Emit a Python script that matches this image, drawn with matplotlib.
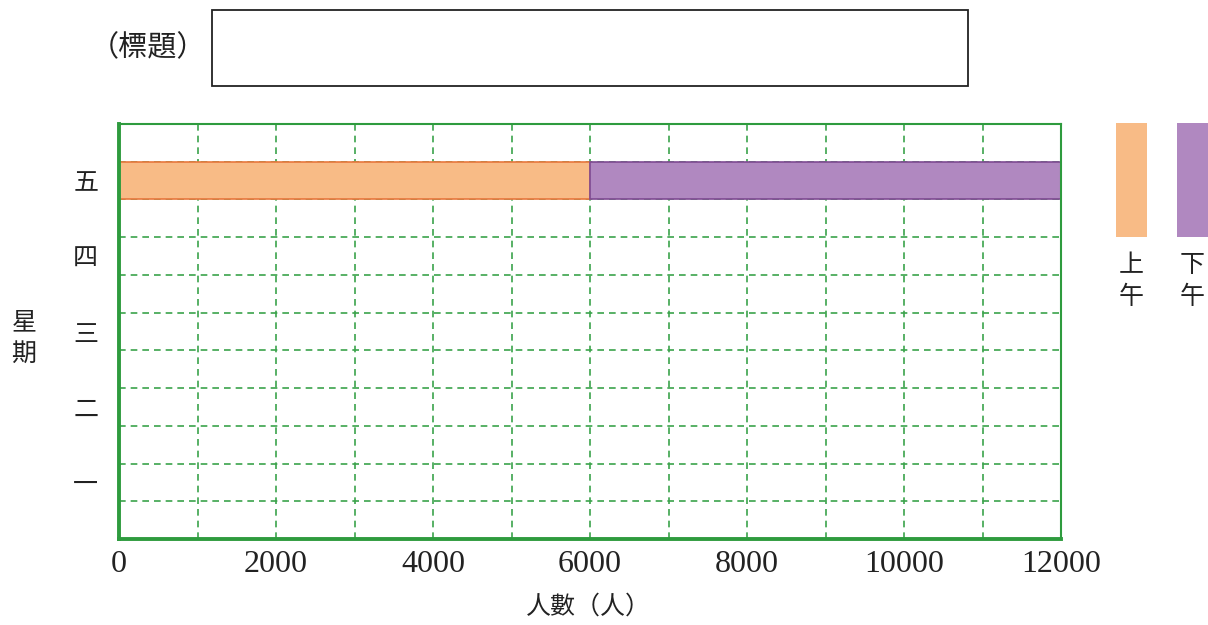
import matplotlib
matplotlib.use("Agg")
import matplotlib.pyplot as plt
from matplotlib.patches import Rectangle
import numpy as np

days = ["一", "二", "三", "四", "五"]
morning = [0, 0, 0, 0, 6000]
afternoon = [0, 0, 0, 0, 6000]
xticks = [0, 2000, 4000, 6000, 8000, 10000, 12000]
series_labels = ["上午", "下午"]
title_text = "（標題）"
xlabel_text = "人數（人）"
ylabel_text = "星期"

CJK = ["Noto Sans CJK TC", "DejaVu Sans"]
SERIF = ["Liberation Serif", "DejaVu Serif"]

c_morning, e_morning = "#F8BB86", "#E8773D"
c_afternoon, e_afternoon = "#B088C0", "#7E4A92"
green = "#2E9B3E"
grid_green = "#3BA34B"
txt = "#222222"

fig = plt.figure(figsize=(12.08, 6.25), dpi=100)
ax = fig.add_axes([119/1208, 1-539/625, (1061-119)/1208, (539-124)/625])

ypos = np.arange(1, len(days)+1)
ax.set_xlim(0, 12000)
ax.set_ylim(0.25, 5.75)

# grid
for xv in range(1000, 12000, 1000):
    ax.axvline(xv, color=grid_green, lw=1.2, ls=(0, (4, 3)), zorder=1)
for yv in np.arange(0.75, 5.5, 0.5):
    ax.axhline(yv, color=grid_green, lw=1.2, ls=(0, (4, 3)), zorder=1)

ax.barh(ypos, morning, height=0.5, color=c_morning, edgecolor=e_morning, lw=1.2, zorder=3)
ax.barh(ypos, afternoon, left=morning, height=0.5, color=c_afternoon, edgecolor=e_afternoon, lw=1.2, zorder=3)

for s in ["left", "bottom"]:
    ax.spines[s].set_color(green)
    ax.spines[s].set_linewidth(2.8)
for s in ["top", "right"]:
    ax.spines[s].set_color(green)
    ax.spines[s].set_linewidth(1.5)
for s in ax.spines.values():
    s.set_zorder(5)

ax.set_xticks(xticks)
ax.set_xticklabels([str(v) for v in xticks], fontsize=23, family=SERIF, color=txt)
ax.set_yticks(ypos)
ax.set_yticklabels(days, fontsize=18, family=CJK, color=txt)
ax.tick_params(length=0)
ax.tick_params(axis="x", pad=8)
ax.tick_params(axis="y", pad=15)

# axis labels
fig.text(24/1208, 1-338/625, "\n".join(ylabel_text), family=CJK, fontsize=18,
         ha="center", va="center", linespacing=1.3, color=txt)
fig.text(588/1208, 1-607/625, xlabel_text, family=CJK, fontsize=18,
         ha="center", va="center", color=txt)

# title and box
fig.text(148/1208, 1-48/625, title_text, family=CJK, fontsize=21,
         ha="center", va="center", color=txt)
fig.patches.append(Rectangle((212/1208, 1-86/625), (968-212)/1208, (86-10)/625,
                             transform=fig.transFigure, fill=False, ec=txt, lw=1.3))

# legend as vertical bars
leg = [(1116, c_morning), (1177, c_afternoon)]
for (x0, col), lab in zip(leg, series_labels):
    fig.patches.append(Rectangle((x0/1208, 1-237/625), 31/1208, (237-123)/625,
                                 transform=fig.transFigure, color=col, lw=0))
    fig.text((x0+15.5)/1208, 1-281/625, "\n".join(lab), family=CJK, fontsize=18,
             ha="center", va="center", linespacing=1.3, color=txt)

fig.savefig("out.png", dpi=100)
